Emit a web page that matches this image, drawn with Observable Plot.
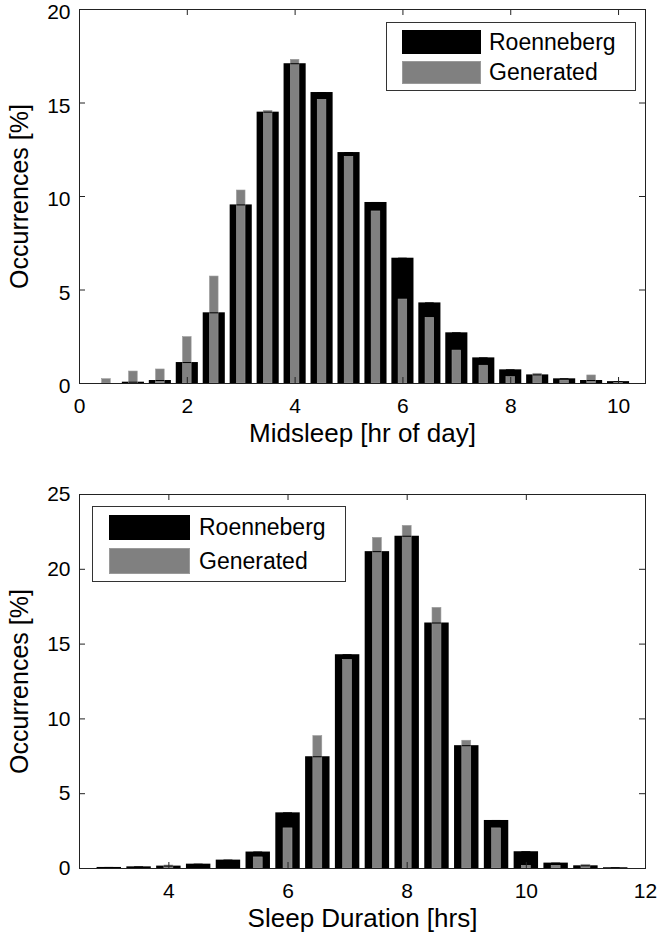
<!DOCTYPE html>
<html>
<head>
<meta charset="utf-8">
<script src="https://cdn.jsdelivr.net/npm/d3@7"></script>
<script src="https://cdn.jsdelivr.net/npm/@observablehq/plot@0.6"></script>
<style>
  body { margin: 0; background: #fff; font-family: "Liberation Sans", Arial, sans-serif; }
  .panel { position: relative; width: 658px; height: 469px; overflow: hidden; }
  .legend { position: absolute; border: 1px solid #333; background: #fff; box-sizing: border-box; }
  .sw { position: absolute; box-sizing: border-box; }
  .lt { position: absolute; font-size: 23px; color: #000; line-height: 1; white-space: nowrap; }
</style>
</head>
<body>
<div id="top" class="panel"></div>
<div id="bottom" class="panel"></div>
<script>
// ---- data ----
const seriesNames = ["Roenneberg", "Generated"];
const seriesColors = ["#000000", "#808080"];

const midsleepBins = [0.5, 1, 1.5, 2, 2.5, 3, 3.5, 4, 4.5, 5, 5.5, 6, 6.5, 7, 7.5, 8, 8.5, 9, 9.5, 10];
const midsleepRoenneberg = [0, 0.07, 0.16, 1.12, 3.78, 9.55, 14.51, 17.1, 15.56, 12.35, 9.68, 6.7, 4.31, 2.71, 1.37, 0.73, 0.46, 0.25, 0.16, 0.1];
const midsleepGenerated = [0.23, 0.64, 0.75, 2.48, 5.72, 10.32, 14.58, 17.31, 15.17, 12.12, 9.2, 4.49, 3.51, 1.76, 0.95, 0.34, 0.52, 0.16, 0.43, 0.03];
const midsleepXTicks = [0, 2, 4, 6, 8, 10];
const midsleepYTicks = [0, 5, 10, 15, 20];

const durationBins = [3, 3.5, 4, 4.5, 5, 5.5, 6, 6.5, 7, 7.5, 8, 8.5, 9, 9.5, 10, 10.5, 11, 11.5];
const durationRoenneberg = [0.07, 0.11, 0.16, 0.29, 0.56, 1.1, 3.72, 7.47, 14.29, 21.18, 22.21, 16.41, 8.21, 3.21, 1.12, 0.36, 0.18, 0.05];
const durationGenerated = [0, 0, 0.2, 0, 0, 0.74, 2.68, 8.85, 13.94, 22.1, 22.9, 17.42, 8.54, 2.68, 0.18, 0.18, 0.25, 0];
const durationXTicks = [4, 6, 8, 10, 12];
const durationYTicks = [0, 5, 10, 15, 20, 25];

const yLabel = "Occurrences [%]";
const midsleepLabel = "Midsleep [hr of day]";
const durationLabel = "Sleep Duration [hrs]";

// ---- chart ----
function panel({bins, r, g, xDomain, yDomain, xTicks, yTicks, grayHalf, xLabel, marginTop, marginBottom, yTickDy}) {
  const data = bins.map((x, i) => ({x, r: r[i], g: g[i]}));
  const W = 658, H = 469, mL = 79, mR = 13;
  const plotW = W - mL - mR;
  const plotH = H - marginTop - marginBottom;
  const tk = 6;
  const blackHalf = 0.205;
  return Plot.plot({
    width: W, height: H,
    marginLeft: mL, marginRight: mR, marginTop, marginBottom,
    x: {domain: xDomain},
    y: {domain: yDomain},
    style: {fontFamily: '"Liberation Sans", Arial, sans-serif', fontSize: "21px", color: "#000", background: "#fff", overflow: "visible"},
    marks: [
      Plot.rectY(data, {x1: d => d.x - blackHalf, x2: d => d.x + blackHalf, y: "r", fill: seriesColors[0]}),
      Plot.rectY(data, {x1: d => d.x - grayHalf, x2: d => d.x + grayHalf, y: "g", fill: seriesColors[1], stroke: "#9a9a9a", strokeWidth: 0.6}),
      Plot.ruleY(data, {y: "r", x1: d => d.x - grayHalf, x2: d => d.x + grayHalf, stroke: "#000", strokeWidth: 1}),
      Plot.ruleX(xTicks, {x: d => d, insetTop: plotH - tk, stroke: "#222"}),
      Plot.ruleX(xTicks, {x: d => d, insetBottom: plotH - tk, stroke: "#222"}),
      Plot.ruleY(yTicks, {y: d => d, insetRight: plotW - tk, stroke: "#222"}),
      Plot.ruleY(yTicks, {y: d => d, insetLeft: plotW - tk, stroke: "#222"}),
      Plot.frame({stroke: "#222", strokeWidth: 1}),
      Plot.axisX({ticks: xTicks, tickSize: 0, tickPadding: 15, label: null, fontSize: 21}),
      Plot.axisY({ticks: yTicks, tickSize: 0, tickPadding: 9, label: null, fontSize: 21, dy: yTickDy}),
      Plot.text([xLabel], {text: d => d, frameAnchor: "bottom", lineAnchor: "middle", textAnchor: "middle", dy: 50, fontSize: 26, fill: "#000"}),
      Plot.text([yLabel], {text: d => d, frameAnchor: "left", lineAnchor: "middle", textAnchor: "middle", rotate: -90, dx: -60, fontSize: 25, fill: "#000"})
    ]
  });
}

function legend(container, {left, top, width, height, swLeft, swW, rows, textLeft}) {
  const box = document.createElement("div");
  box.className = "legend";
  Object.assign(box.style, {left: left + "px", top: top + "px", width: width + "px", height: height + "px"});
  seriesNames.forEach((name, i) => {
    const row = rows[i];
    const sw = document.createElement("div");
    sw.className = "sw";
    Object.assign(sw.style, {left: (swLeft - left) + "px", top: (row.top - top) + "px", width: swW + "px", height: row.h + "px",
      background: seriesColors[i], border: "1px solid " + (i === 0 ? "#000" : "#9a9a9a")});
    box.appendChild(sw);
    const t = document.createElement("div");
    t.className = "lt";
    t.textContent = name;
    Object.assign(t.style, {left: (textLeft - left) + "px", top: (row.top + row.h / 2 - top - 11.5) + "px"});
    box.appendChild(t);
  });
  container.appendChild(box);
}

const topEl = document.getElementById("top");
topEl.appendChild(panel({
  bins: midsleepBins, r: midsleepRoenneberg, g: midsleepGenerated,
  xDomain: [0, 10.5], yDomain: [0, 20], xTicks: midsleepXTicks, yTicks: midsleepYTicks,
  grayHalf: 0.08, xLabel: midsleepLabel, marginTop: 9, marginBottom: 86, yTickDy: 3
}));
legend(topEl, {left: 386, top: 22, width: 250, height: 69, swLeft: 401, swW: 79,
  rows: [{top: 29, h: 24}, {top: 60, h: 23}], textLeft: 488});

const botEl = document.getElementById("bottom");
botEl.appendChild(panel({
  bins: durationBins, r: durationRoenneberg, g: durationGenerated,
  xDomain: [2.5, 12], yDomain: [0, 25], xTicks: durationXTicks, yTicks: durationYTicks,
  grayHalf: 0.075, xLabel: durationLabel, marginTop: 25, marginBottom: 70, yTickDy: 0
}));
legend(botEl, {left: 92, top: 37, width: 254, height: 76, swLeft: 108, swW: 81,
  rows: [{top: 45, h: 25}, {top: 78, h: 26}], textLeft: 198});
</script>
</body>
</html>
